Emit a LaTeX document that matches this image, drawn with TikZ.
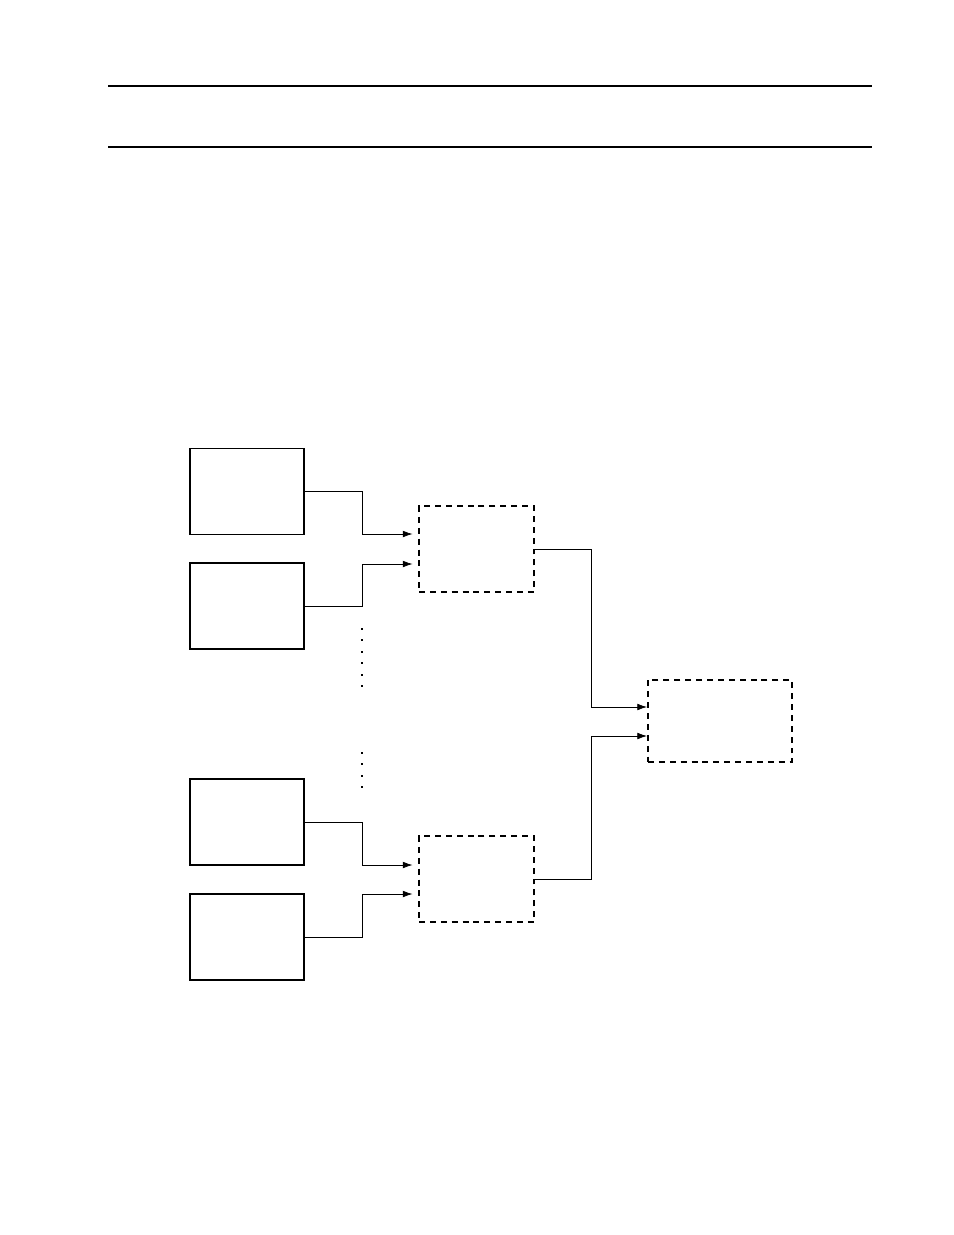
\documentclass[tikz,border=0pt]{standalone}
\usepackage{tikz}
\usetikzlibrary{arrows.meta,positioning}
\tikzset{>={Latex[length=5.5pt,width=3.8pt]}}
\begin{document}
\begin{tikzpicture}[
squarednode/.style={rectangle, draw=black, line width=0.7pt, minimum width=22.8mm, minimum height=17.2mm, inner sep=0pt, outer sep=0pt},
dashednode/.style={rectangle, draw=black, line width=0.6pt, dash pattern=on 3.4pt off 2.8pt, minimum width=23mm, minimum height=17.2mm, inner sep=0pt, outer sep=0pt},
]
\useasboundingbox (0,0) rectangle (19.08,-24.70);
%Rules
\draw[line width=1.1pt] (2.16,-1.72) -- (17.44,-1.72);
\draw[line width=0.6pt] (2.16,-2.94) -- (17.44,-2.94);

%Nodes
\node[squarednode](Input 1) at (4.94,-9.83){};
\node[squarednode](Input 2)[below=0.57cm of Input 1]{};
\node[squarednode](Input 3)[below=2.6cm of Input 2]{};
\node[squarednode](Input 4)[below=0.58cm of Input 3]{};
\node[dashednode](Merge 1) at (9.53,-10.98){};
\node[dashednode](Merge 2) at (9.53,-17.58){};
\node[dashednode, minimum width=28.8mm, minimum height=16.4mm, line width=0.9pt](Output) at (14.40,-14.42){};

%Lines
\draw[->, shorten >=0.13cm] (Input 1.east) -- ++(1.16,0) |- ([yshift=0.30cm]Merge 1.west);
\draw[->, shorten >=0.13cm] (Input 2.east) -- ++(1.16,0) |- ([yshift=-0.30cm]Merge 1.west);
\draw[->, shorten >=0.13cm] (Input 3.east) -- ++(1.16,0) |- ([yshift=0.28cm]Merge 2.west);
\draw[->, shorten >=0.13cm] (Input 4.east) -- ++(1.16,0) |- ([yshift=-0.30cm]Merge 2.west);
\draw[->, shorten >=0.02cm] (Merge 1.east) -- ++(1.14,0) |- ([yshift=0.28cm]Output.west);
\draw[->, shorten >=0.02cm] (Merge 2.east) -- ++(1.14,0) |- ([yshift=-0.30cm]Output.west);

%Dots
\foreach \i in {0,...,5} \fill (7.22,{-12.56-0.228*\i}) rectangle ++(0.04,-0.04);
\foreach \i in {0,...,3} \fill (7.22,{-15.04-0.227*\i}) rectangle ++(0.04,-0.04);
\end{tikzpicture}
\end{document}
